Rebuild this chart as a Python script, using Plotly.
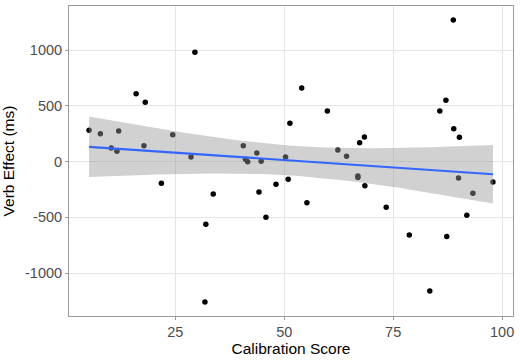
import numpy as np
import plotly.graph_objects as go

calibration_score = [5.2, 7.8, 10.3, 11.6, 12.0, 16.0, 17.8, 18.1, 21.8, 24.4,
                     28.6, 29.5, 31.8, 32.0, 33.7, 40.6, 41.1, 41.6, 43.7, 44.2,
                     44.7, 45.8, 48.1, 50.3, 50.9, 51.3, 54.0, 55.2, 59.9, 62.3,
                     64.3, 66.9, 66.9, 67.3, 68.4, 68.5, 73.4, 78.7, 83.4, 85.7,
                     87.1, 87.3, 88.8, 88.9, 90.0, 90.2, 91.9, 93.3, 97.9]
verb_effect = [281, 251, 123, 93, 275, 610, 143, 533, -194, 242,
               42, 981, -1258, -562, -290, 143, 21, 0, 78, -272,
               4, -499, -203, 42, -158, 344, 661, -368, 455, 105,
               48, -128, -143, 170, 222, -215, -409, -657, -1160, 455,
               551, -672, 1271, 296, -146, 219, -481, -284, -182]

x_ticks = [25, 50, 75, 100]
x_ticktext = ["25", "50", "75", "100"]
y_ticks = [-1000, -500, 0, 500, 1000]
y_ticktext = ["-1000", "-500", "0", "500", "1000"]

x = np.array(calibration_score, dtype=float)
y = np.array(verb_effect, dtype=float)
n = len(x)
slope, intercept = np.polyfit(x, y, 1)
xs = np.linspace(x.min(), x.max(), 80)
ys = intercept + slope * xs
resid = y - (intercept + slope * x)
s = np.sqrt(np.sum(resid ** 2) / (n - 2))
sxx = np.sum((x - x.mean()) ** 2)
se = s * np.sqrt(1.0 / n + (xs - x.mean()) ** 2 / sxx)
t_crit = 2.012
upper = ys + t_crit * se
lower = ys - t_crit * se

fig = go.Figure()
fig.add_trace(go.Scatter(x=x, y=y, mode="markers",
                         marker=dict(color="black", size=5.5, line=dict(width=0)),
                         showlegend=False, hoverinfo="skip"))
fig.add_trace(go.Scatter(x=np.concatenate([xs, xs[::-1]]),
                         y=np.concatenate([upper, lower[::-1]]),
                         fill="toself", fillcolor="rgba(153,153,153,0.45)",
                         line=dict(width=0), mode="lines",
                         showlegend=False, hoverinfo="skip"))
fig.add_trace(go.Scatter(x=xs, y=ys, mode="lines",
                         line=dict(color="#3366FF", width=2.2),
                         showlegend=False, hoverinfo="skip"))

axis_common = dict(showgrid=True, gridcolor="#e5e5e5", gridwidth=1,
                   zeroline=False, showline=True, linecolor="#9a9a9a", linewidth=1,
                   mirror=True, ticks="outside", ticklen=3, tickcolor="#9a9a9a",
                   tickfont=dict(family="Liberation Sans, Arial", size=14.5, color="#4d4d4d"))

fig.update_xaxes(range=[0.6, 102.5], tickvals=x_ticks, ticktext=x_ticktext,
                 title=dict(text="Calibration Score", standoff=1,
                            font=dict(family="Liberation Sans, Arial", size=15.5, color="black")),
                 **axis_common)
fig.update_yaxes(range=[-1384, 1396], tickvals=y_ticks, ticktext=y_ticktext,
                 title=dict(text="Verb Effect (ms)", standoff=6,
                            font=dict(family="Liberation Sans, Arial", size=15.5, color="black")),
                 **axis_common)

fig.update_layout(width=520, height=360,
                  margin=dict(l=69, r=7, t=6, b=44),
                  plot_bgcolor="white", paper_bgcolor="white")

fig.write_html("out.html", config={"displayModeBar": False},
               post_script="document.body.style.margin='0';document.body.style.padding='0';")
